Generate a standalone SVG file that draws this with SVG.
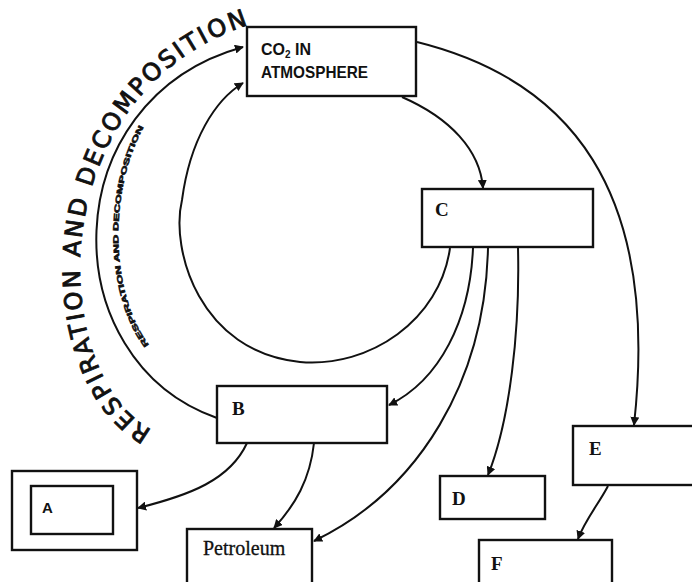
<svg xmlns="http://www.w3.org/2000/svg" width="692" height="582" viewBox="0 0 692 582">
<defs>
<style>
.box{fill:#fff;stroke:#111;stroke-width:2.4}
.ln{fill:none;stroke:#111;stroke-width:2}
.lbl{font-family:"Liberation Serif",serif;font-weight:bold;font-size:19px;fill:#111}
.sans{font-family:"Liberation Sans",sans-serif;font-weight:bold;fill:#111}
.hand{font-family:"DejaVu Sans",sans-serif;font-size:24px;fill:#111;stroke:#111;stroke-width:0.9}
</style>
<marker id="arr" viewBox="0 0 10 10" refX="9" refY="5" markerWidth="9" markerHeight="9" markerUnits="userSpaceOnUse" orient="auto">
<path d="M0,0 L10,5 L0,10 z" fill="#111"/>
</marker>
<path id="outerText" d="M152,430 C44,372 40,80 262,21"/>
<path id="innerText" d="M149,345 C108,290 108,180 150,117"/>
</defs>
<rect width="692" height="582" fill="#fff"/>

<g id="connectors">
<path class="ln" d="M217,418 C52,360 52,100 243,47" marker-end="url(#arr)"/>
<path class="ln" d="M450,248 C440,320 370,368 300,362 C200,352 170,250 182,200 C190,140 215,100 243,83" marker-end="url(#arr)"/>
<path class="ln" d="M402,97 C450,118 480,150 483,188" marker-end="url(#arr)"/>
<path class="ln" d="M417,42 C570,80 660,190 634,425" marker-end="url(#arr)"/>
<path class="ln" d="M473,248 C470,320 440,380 389,405" marker-end="url(#arr)"/>
<path class="ln" d="M488,248 C485,380 420,490 314,541" marker-end="url(#arr)"/>
<path class="ln" d="M518,248 C520,330 510,420 488,475" marker-end="url(#arr)"/>
<path class="ln" d="M247,443 C230,480 190,495 138,508" marker-end="url(#arr)"/>
<path class="ln" d="M314,443 C310,480 295,505 274,528" marker-end="url(#arr)"/>
<path class="ln" d="M608,486 C598,505 585,520 578,539" marker-end="url(#arr)"/>
</g>

<g id="label-respiration-outer">
<text class="hand"><textPath href="#outerText" startOffset="0" textLength="502" lengthAdjust="spacing">RESPIRATION AND DECOMPOSITION</textPath></text>
</g>
<g id="label-respiration-inner">
<text class="sans" font-size="7.5" stroke="#111" stroke-width="0.6"><textPath href="#innerText" textLength="228" lengthAdjust="spacingAndGlyphs">RESPIRATION AND DECOMPOSITION</textPath></text>
</g>

<g id="node-co2">
<rect class="box" x="247" y="27" width="169" height="69"/>
<text class="sans" font-size="16" x="261" y="55" textLength="50" lengthAdjust="spacingAndGlyphs">CO<tspan font-size="10" dy="3">2</tspan><tspan dy="-3"> IN</tspan></text>
<text class="sans" font-size="16.5" x="261" y="78" textLength="107" lengthAdjust="spacingAndGlyphs">ATMOSPHERE</text>
</g>

<g id="node-c">
<rect class="box" x="422" y="189" width="171" height="58"/>
<text class="lbl" x="435" y="216">C</text>
</g>

<g id="node-b">
<rect class="box" x="217" y="386" width="170" height="57"/>
<text class="lbl" x="232" y="415">B</text>
</g>

<g id="node-a">
<rect class="box" x="12" y="471" width="125" height="79"/>
<rect class="box" x="31" y="486" width="82" height="48" stroke-width="2"/>
<text class="sans" font-size="15" x="42" y="513">A</text>
</g>

<g id="node-petroleum">
<rect class="box" x="187" y="529" width="125" height="60"/>
<text x="203" y="555" font-family="Liberation Serif, serif" font-size="20" fill="#111" stroke="#111" stroke-width="0.3">Petroleum</text>
</g>

<g id="node-d">
<rect class="box" x="440" y="476" width="105" height="43"/>
<text class="lbl" x="452" y="505">D</text>
</g>

<g id="node-e">
<rect class="box" x="573" y="426" width="125" height="59"/>
<text class="lbl" x="589" y="455">E</text>
</g>

<g id="node-f">
<rect class="box" x="479" y="540" width="133" height="50"/>
<text class="lbl" x="491" y="570">F</text>
</g>
</svg>
